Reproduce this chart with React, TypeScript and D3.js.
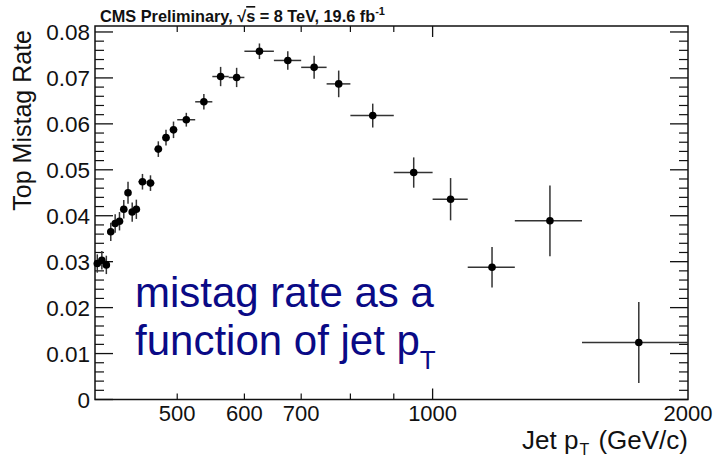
import React from "react";
import * as d3 from "d3";

const binEdges = [400, 405, 410, 415, 420, 425, 430, 435, 440, 445, 450, 460, 470, 480, 490, 500, 525, 550, 575, 600, 650, 700, 750, 800, 900, 1000, 1100, 1250, 1500, 2000];
const rate = [0.0296, 0.0303, 0.0293, 0.0365, 0.0383, 0.0388, 0.0414, 0.0450, 0.0408, 0.0414, 0.0474, 0.0471, 0.0545, 0.0570, 0.0587, 0.0609, 0.0648, 0.0703, 0.0701, 0.0758, 0.0738, 0.0723, 0.0687, 0.0618, 0.0494, 0.0436, 0.0288, 0.0389, 0.0124];
const rateErr = [0.0020, 0.0020, 0.0020, 0.0020, 0.0020, 0.0020, 0.0020, 0.0024, 0.0021, 0.0021, 0.0017, 0.0017, 0.0017, 0.0017, 0.0018, 0.0015, 0.0017, 0.0021, 0.0021, 0.0017, 0.0020, 0.0025, 0.0029, 0.0026, 0.0033, 0.0046, 0.0044, 0.0077, 0.0088];

const xLabelTicks = [500, 600, 700, 1000, 2000];
const xMinorTicks = [500, 600, 700, 800, 900];
const xMajorTicks = [1000];
const yTicks = [0, 0.01, 0.02, 0.03, 0.04, 0.05, 0.06, 0.07, 0.08];

const FONT = "'Liberation Sans', Arial, Helvetica, sans-serif";

export default function App() {
  const L = 95, R = 688, T = 26, B = 399.5;
  const x = d3.scaleLog().domain([400, 2000]).range([L, R]);
  const y = d3.scaleLinear().domain([0, 0.0813]).range([B, T]);

  const points = rate.map((v, i) => ({
    lo: binEdges[i],
    hi: binEdges[i + 1],
    c: (binEdges[i] + binEdges[i + 1]) / 2,
    v,
    e: rateErr[i],
  }));

  const yMinor: number[] = [];
  for (let k = 0; k <= 40; k++) {
    const v = k * 0.002;
    if (k % 5 !== 0) yMinor.push(v);
  }

  const axisColor = "#111";

  return (
    <svg width={716} height={457} style={{ position: "absolute", left: 0, top: 0, background: "#fff" }} fontFamily={FONT}>
      <rect x={0} y={0} width={716} height={457} fill="#fff" />
      {/* title */}
      <text x={100} y={22} fontSize={16.3} fontWeight="bold" fill="#111">
        CMS Preliminary, √<tspan textDecoration="overline">s</tspan> = 8 TeV, 19.6 fb
        <tspan fontSize={11} dy={-7}>-1</tspan>
      </text>

      {/* frame */}
      <rect x={L} y={T} width={R - L} height={B - T} fill="none" stroke={axisColor} strokeWidth={1.5} />

      {/* y ticks left/right */}
      {yTicks.map((t) => (
        <g key={"yt" + t}>
          <line x1={L} x2={L + 18} y1={y(t)} y2={y(t)} stroke={axisColor} strokeWidth={1.3} />
          <line x1={R} x2={R - 18} y1={y(t)} y2={y(t)} stroke={axisColor} strokeWidth={1.3} />
          <text x={90} y={y(t)} dy="0.36em" textAnchor="end" fontSize={22.5} fill="#111">
            {t === 0 ? "0" : d3.format(".2f")(t)}
          </text>
        </g>
      ))}
      {yMinor.map((t) => (
        <g key={"ym" + t}>
          <line x1={L} x2={L + 9} y1={y(t)} y2={y(t)} stroke={axisColor} strokeWidth={1.2} />
          <line x1={R} x2={R - 9} y1={y(t)} y2={y(t)} stroke={axisColor} strokeWidth={1.2} />
        </g>
      ))}

      {/* x ticks */}
      {xMinorTicks.map((t) => (
        <g key={"xm" + t}>
          <line x1={x(t)} x2={x(t)} y1={B} y2={B - 6} stroke={axisColor} strokeWidth={1.2} />
          <line x1={x(t)} x2={x(t)} y1={T} y2={T + 6} stroke={axisColor} strokeWidth={1.2} />
        </g>
      ))}
      {xMajorTicks.map((t) => (
        <g key={"xM" + t}>
          <line x1={x(t)} x2={x(t)} y1={B} y2={B - 11} stroke={axisColor} strokeWidth={1.3} />
          <line x1={x(t)} x2={x(t)} y1={T} y2={T + 11} stroke={axisColor} strokeWidth={1.3} />
        </g>
      ))}
      {xLabelTicks.map((t) => (
        <text key={"xl" + t} x={x(t)} y={421} textAnchor="middle" fontSize={22} fill="#111">
          {t}
        </text>
      ))}

      {/* axis titles */}
      <text x={R} y={449} textAnchor="end" fontSize={26} fill="#111">
        Jet p<tspan fontSize={16} dy={6} dx={1}>T</tspan>
        <tspan dy={-6} dx={2}> (GeV/c)</tspan>
      </text>
      <text transform={`translate(31, ${T + 4}) rotate(-90)`} textAnchor="end" fontSize={25} fill="#111">
        Top Mistag Rate
      </text>

      {/* data */}
      {points.map((p, i) => (
        <g key={"p" + i}>
          <line x1={x(p.lo)} x2={x(p.hi)} y1={y(p.v)} y2={y(p.v)} stroke="#333" strokeWidth={1.5} />
          <line x1={x(p.c)} x2={x(p.c)} y1={y(p.v - p.e)} y2={y(p.v + p.e)} stroke="#333" strokeWidth={1.5} />
          <circle cx={x(p.c)} cy={y(p.v)} r={3.8} fill="#000" />
        </g>
      ))}

      {/* annotation */}
      <text x={135} y={307} fontSize={42} fill="#0a0a86">
        mistag rate as a
      </text>
      <text x={135} y={355} fontSize={42} fill="#0a0a86">
        function of jet p<tspan fontSize={26} dy={14}>T</tspan>
      </text>
    </svg>
  );
}
